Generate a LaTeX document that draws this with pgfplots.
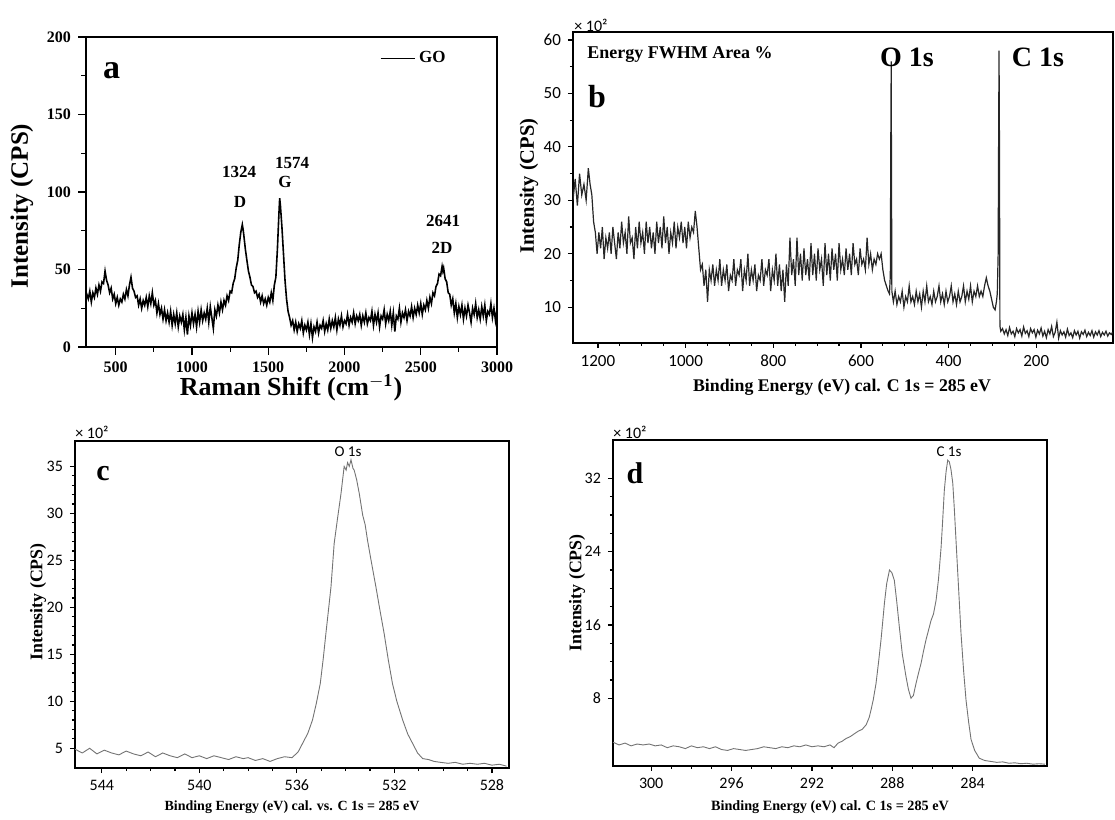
\documentclass[border=0pt]{standalone}
\usepackage{pgfplots}
\pgfplotsset{compat=1.18}
\usepackage{fontspec}
\setmainfont{Liberation Serif}
\newfontfamily\carlito{Carlito}

\pgfplotsset{
  panel/.style={scale only axis, anchor=south west,
    axis line style={line width=1.1pt},
    tick align=outside, tick pos=left,
    major tick length=2.5pt, minor tick length=1.5pt,
    every tick/.style={black, line width=0.6pt},
    /pgf/number format/assume math mode=true,
    /pgf/number format/set thousands separator={}},
}

\begin{document}
\begin{tikzpicture}
\path[use as bounding box] (0,0) rectangle (557.5pt,410pt);

% (a) Raman
\begin{axis}[panel, at={(43pt,236.5pt)}, width=205.5pt, height=155pt,
  xmin=305, xmax=3000, ymin=0, ymax=200,
  xtick={500,1000,...,3000}, ytick={0,50,...,200},
  minor x tick num=1, minor y tick num=1,
  major tick length=4pt, minor tick length=2.5pt,
  tick label style={font=\fontsize{8}{9}\selectfont\bfseries},
  legend style={draw=none, fill=none, at={(0.7,0.932)}, anchor=west,
    font=\fontsize{8.5}{9}\selectfont\bfseries},
  legend image code/.code={\draw[black,line width=0.5pt] (0cm,0cm) -- (0.6cm,0cm);}]
\addplot[black, line width=0.8pt] coordinates {
(300,28)(310,34)(320,31)(330,36)(340,29)(350,35)(360,32)(370,38)(380,34)(390,40)
(400,36)(410,42)(420,41)(430,49)(440,43)(450,40)(460,35)(470,38)(480,31)(490,34)
(500,28)(510,32)(520,27)(530,31)(540,29)(550,34)(560,31)(570,37)(580,33)(590,40)
(600,45)(610,38)(620,36)(630,32)(640,33)(650,27)(660,31)(670,25)(680,30)(690,27)
(700,32)(710,26)(720,33)(730,28)(740,35)(750,27)(760,30)(770,22)(780,28)(790,21)
(800,25)(810,18)(820,24)(830,17)(840,22)(850,16)(860,23)(870,14)(880,21)(890,15)
(900,22)(910,13)(920,20)(930,16)(940,21)(950,11)(960,19)(970,8)(980,20)(990,14)
(1000,22)(1010,15)(1020,21)(1030,13)(1040,23)(1050,16)(1060,24)(1070,17)(1080,22)(1090,18)
(1100,25)(1110,16)(1120,26)(1130,19)(1140,12)(1150,24)(1160,20)(1170,27)(1180,22)(1190,29)
(1200,24)(1210,30)(1220,27)(1230,33)(1240,30)(1250,36)(1260,35)(1270,41)(1280,44)(1290,51)
(1300,56)(1310,66)(1320,74)(1330,79)(1335,76)(1340,72)(1350,63)(1360,56)(1370,49)(1380,45)
(1390,40)(1400,39)(1410,35)(1420,36)(1430,32)(1440,34)(1450,29)(1460,33)(1470,28)(1480,31)
(1490,27)(1500,32)(1510,29)(1520,35)(1530,30)(1540,40)(1550,45)(1560,63)(1570,86)(1575,96)
(1580,91)(1590,77)(1600,60)(1610,43)(1620,31)(1630,23)(1640,19)(1650,14)(1660,17)(1670,11)
(1680,16)(1690,10)(1700,15)(1710,12)(1720,17)(1730,9)(1740,14)(1750,11)(1760,16)(1770,8)
(1780,15)(1790,6)(1800,13)(1810,10)(1820,16)(1830,9)(1840,14)(1850,12)(1860,17)(1870,10)
(1880,15)(1890,11)(1900,18)(1910,12)(1920,17)(1930,13)(1940,19)(1950,11)(1960,18)(1970,14)
(1980,20)(1990,13)(2000,17)(2010,15)(2020,21)(2030,14)(2040,19)(2050,16)(2060,22)(2070,15)
(2080,20)(2090,17)(2100,21)(2110,14)(2120,20)(2130,16)(2140,22)(2150,15)(2160,19)(2170,17)
(2180,23)(2190,14)(2200,21)(2210,16)(2220,22)(2230,13)(2240,20)(2250,18)(2260,24)(2270,15)
(2280,21)(2290,17)(2300,23)(2310,14)(2320,22)(2330,10)(2340,20)(2350,18)(2360,25)(2370,16)
(2380,22)(2390,19)(2400,24)(2410,17)(2420,23)(2430,20)(2440,26)(2450,19)(2460,25)(2470,21)
(2480,27)(2490,22)(2500,28)(2510,21)(2520,27)(2530,24)(2540,30)(2550,25)(2560,32)(2570,28)
(2580,35)(2590,33)(2600,39)(2610,41)(2620,47)(2630,46)(2640,52)(2645,49)(2650,51)(2660,44)
(2670,42)(2680,35)(2690,34)(2700,27)(2710,31)(2720,22)(2730,28)(2740,19)(2750,26)(2760,21)
(2770,27)(2780,18)(2790,25)(2800,20)(2810,27)(2820,22)(2830,16)(2840,25)(2850,21)(2860,28)
(2870,19)(2880,24)(2890,18)(2900,26)(2910,20)(2920,27)(2930,17)(2940,23)(2950,21)(2960,28)
(2970,19)(2980,25)(2990,17)(3000,24)
};
\addlegendentry{GO}
\end{axis}

% (b) XPS survey
\begin{axis}[panel, at={(286.5pt,238.5pt)}, width=270pt, height=155.5pt,
  x dir=reverse, xmin=25, xmax=1257, ymin=3.3, ymax=61.5,
  xtick={200,400,...,1200}, ytick={10,20,...,60},
  minor x tick num=3, minor y tick num=1,
  tick label style={font=\carlito\fontsize{8.5}{9}\selectfont}]
\addplot[black!85, line width=0.6pt] coordinates {
(1257,30)(1252,34)(1247,29)(1242,35)(1237,31)(1232,33)(1227,30)(1222,36)(1218,33)(1214,31)
(1210,26)(1206,24)(1202,20)(1198,24)(1194,21)(1190,25)(1186,19)(1182,23)(1178,21)(1174,24)
(1170,20)(1166,25)(1162,22)(1158,19)(1154,24)(1150,21)(1146,26)(1142,22)(1138,24)(1134,20)
(1130,27)(1126,22)(1122,23)(1118,19)(1114,25)(1110,21)(1106,26)(1102,22)(1098,24)(1094,20)
(1090,26)(1086,22)(1082,25)(1078,21)(1074,24)(1070,20)(1066,26)(1062,22)(1058,25)(1054,21)
(1050,27)(1046,22)(1042,25)(1038,20)(1034,24)(1030,22)(1026,26)(1022,21)(1018,25)(1014,23)
(1010,26)(1006,22)(1002,25)(998,21)(994,26)(990,23)(986,25)(982,24)(978,28)(974,25)
(970,21)(966,17)(962,18)(958,14)(954,17)(950,11)(946,17)(942,15)(938,18)(934,14)
(930,17)(926,15)(922,19)(918,14)(914,17)(910,15)(906,18)(902,13)(898,16)(894,15)
(890,19)(886,14)(882,17)(878,16)(874,19)(870,13)(866,17)(862,15)(858,20)(854,14)
(850,17)(846,15)(842,18)(838,13)(834,16)(830,15)(826,19)(822,14)(818,17)(814,16)
(810,19)(806,13)(802,17)(798,15)(794,20)(790,14)(786,18)(782,13)(778,17)(774,11)
(770,18)(766,14)(762,23)(758,16)(754,19)(750,14)(746,23)(742,16)(738,20)(734,15)
(730,21)(726,16)(722,19)(718,15)(714,22)(710,16)(706,20)(702,15)(698,21)(694,17)
(690,19)(686,14)(682,22)(678,16)(674,20)(670,15)(666,21)(662,17)(658,20)(654,15)
(650,22)(646,17)(642,19)(638,16)(634,21)(630,17)(626,20)(622,16)(618,22)(614,18)
(610,19)(606,16)(602,21)(598,18)(594,19)(590,17)(586,23)(582,18)(578,20)(574,17)
(570,19)(566,18)(562,20)(558,19)(554,20)(550,17)(546,15)(542,14)(538,13)(535,12.5)
(533,16)(532,40)(531,56)(530.5,40)(529.5,13)(526,11)(522,13)(518,10.5)(514,12)(510,11)
(506,13)(502,10)(498,12)(494,11)(490,14)(486,11)(482,12)(478,10.5)(474,13)(470,11)
(466,12.5)(462,10)(458,13)(454,11)(450,14)(446,11)(442,12)(438,10.5)(434,13)(430,11)
(426,12)(422,14)(418,11)(414,12.5)(410,10.5)(406,13)(402,11)(398,12)(394,14)(390,11)
(386,12.5)(382,10.5)(378,13)(374,11)(370,12)(366,14)(362,11)(358,13)(354,11.5)(350,14)
(346,11)(342,13)(338,12)(334,14)(330,12)(326,13)(322,12)(318,14)(314,15.5)(310,14)
(306,13)(302,11.5)(298,10)(294,9.5)(291,11)(289,12.5)(287,20)(286,40)(285,58)(284,40)
(283,6.5)(281,5.5)(277,6)(273,5)(269,5.8)(265,4.7)(261,6.2)(257,5)(253,5.5)(249,4.5)
(245,6)(241,5.2)(237,5.8)(233,4.6)(229,6.3)(225,5.1)(221,5.6)(217,4.5)(213,6)(209,5.2)
(205,5.8)(201,4.4)(197,5.7)(193,5)(189,6.1)(185,4.6)(181,5.5)(177,4.3)(173,5.8)(169,5)
(165,6.4)(161,4.5)(157,5.3)(153,7.2)(149,4.2)(145,5.6)(141,4.8)(137,5.4)(133,4.4)(129,5.9)
(125,4.7)(121,5.2)(117,4.3)(113,5.6)(109,4.8)(105,5.5)(101,4.2)(97,5.4)(93,4.9)(89,5.7)
(85,4.5)(81,5.3)(77,4.7)(73,5.6)(69,4.4)(65,5.4)(61,4.8)(57,5.6)(53,4.5)(49,5.3)
(45,4.8)(41,5.5)(37,4.6)(33,5.2)(29,4.9)(26,5.3)
};
\end{axis}

% (c) O 1s
\begin{axis}[panel, at={(37.5pt,26pt)}, width=217pt, height=163.5pt,
  x dir=reverse, xmin=527.3, xmax=545.1, ymin=2.9, ymax=37.7,
  xtick={528,532,...,544}, ytick={5,10,...,35},
  minor x tick num=3, minor y tick num=4,
  tick label style={font=\carlito\fontsize{8}{9}\selectfont}]
\addplot[black!55, line width=0.45pt] coordinates {
(545.1,4.9)(544.8,4.5)(544.5,5.0)(544.2,4.4)(543.9,4.8)(543.6,4.5)(543.3,4.3)(543.0,4.7)
(542.7,4.4)(542.4,4.2)(542.1,4.6)(541.8,4.1)(541.5,4.5)(541.2,4.2)(540.9,4.0)(540.6,4.4)
(540.3,4.0)(540.0,4.2)(539.7,3.9)(539.4,4.2)(539.1,4.0)(538.8,3.8)(538.5,4.1)(538.2,3.9)
(538.0,4.0)(537.7,3.7)(537.4,3.9)(537.1,3.6)(536.8,3.9)(536.5,4.1)(536.2,4.0)(535.95,4.6)
(535.77,5.5)(535.55,6.6)(535.36,8.0)(535.2,9.8)(535.04,11.9)(534.92,14.5)(534.81,17.2)
(534.7,19.8)(534.6,22.2)(534.47,26.8)(534.33,29.5)(534.19,32.1)(534.06,35.0)(533.98,34.6)
(533.92,35.4)(533.85,35.0)(533.78,35.7)(533.7,34.8)(533.65,34.6)(533.55,33.6)(533.44,32.1)
(533.3,29.8)(533.2,28.8)(533.1,27.1)(532.95,24.9)(532.76,22.2)(532.6,19.8)(532.42,17.2)
(532.25,14.4)(532.08,11.9)(531.9,10.0)(531.66,8.0)(531.45,6.5)(531.25,5.5)(531.05,4.5)
(530.84,3.9)(530.6,3.8)(530.37,3.6)(530.1,3.5)(529.8,3.4)(529.5,3.5)(529.2,3.3)(528.9,3.4)
(528.6,3.3)(528.3,3.4)(528.0,3.2)(527.7,3.3)(527.4,3.1)
};
\end{axis}

% (d) C 1s
\begin{axis}[panel, at={(306.5pt,27pt)}, width=217pt, height=163pt,
  x dir=reverse, xmin=280.3, xmax=301.9, ymin=0.6, ymax=36.2,
  xtick={284,288,...,300}, ytick={8,16,24,32},
  minor x tick num=3, minor y tick num=3,
  tick label style={font=\carlito\fontsize{8}{9}\selectfont}]
\addplot[black!55, line width=0.45pt] coordinates {
(301.9,3.2)(301.6,2.9)(301.3,3.1)(301.0,2.8)(300.7,3.0)(300.4,2.9)(300.1,3.0)(299.8,2.8)
(299.5,2.9)(299.2,2.6)(298.9,2.8)(298.6,2.7)(298.3,2.5)(298.0,2.8)(297.7,2.6)(297.4,2.7)
(297.1,2.5)(296.8,2.7)(296.5,2.4)(296.2,2.3)(295.9,2.5)(295.6,2.4)(295.3,2.3)(295.0,2.4)
(294.7,2.5)(294.4,2.7)(294.1,2.6)(293.8,2.5)(293.5,2.7)(293.2,2.6)(292.9,2.8)(292.6,2.7)
(292.3,2.9)(292.0,2.7)(291.7,2.8)(291.4,2.7)(291.1,2.9)(290.9,2.6)(290.7,3.1)(290.5,3.3)
(290.3,3.6)(290.1,3.8)(289.9,4.1)(289.7,4.4)(289.5,4.6)(289.3,5.1)(289.15,5.9)(289.06,6.7)
(288.95,7.8)(288.81,9.6)(288.68,12.0)(288.56,14.4)(288.47,16.5)(288.39,18.4)(288.28,20.5)
(288.14,22.0)(288.02,21.7)(287.90,20.9)(287.78,18.6)(287.65,15.8)(287.5,12.8)(287.32,10.4)
(287.2,9.0)(287.07,8.0)(286.95,8.3)(286.82,9.6)(286.7,10.7)(286.57,11.8)(286.45,13.1)
(286.32,14.4)(286.2,15.4)(286.07,16.5)(285.95,17.2)(285.82,18.7)(285.7,21.0)(285.57,24.5)
(285.49,27.5)(285.41,30.7)(285.32,32.8)(285.24,34.0)(285.16,33.8)(285.08,33.0)(284.99,31.5)
(284.91,28.6)(284.83,25.3)(284.7,20.0)(284.58,15.1)(284.45,11.0)(284.33,7.8)(284.2,5.4)
(284.08,3.5)(283.9,2.3)(283.67,1.45)(283.4,1.2)(283.1,1.1)(282.8,1.0)(282.5,1.05)(282.2,0.9)
(281.9,0.95)(281.6,0.85)(281.3,0.9)(281.0,0.8)(280.7,0.85)(280.4,0.8)
};
\end{axis}

% texts of (a)
\node[font=\fontsize{17}{18}\selectfont\bfseries] at (55.8pt,374.6pt) {a};
\begin{scope}[font=\fontsize{8.5}{9}\selectfont\bfseries]
\node at (119.5pt,324pt) {1324};
\node at (120pt,309pt) {D};
\node at (146pt,328.5pt) {1574};
\node at (142.5pt,319pt) {G};
\node at (221.5pt,299.5pt) {2641};
\node at (221pt,286pt) {2D};
\end{scope}
\node[rotate=90, font=\fontsize{12.5}{13}\selectfont\bfseries] at (11pt,307pt) {Intensity (CPS)};
\node[font=\fontsize{13}{14}\selectfont\bfseries] at (145.5pt,216pt) {Raman Shift (cm$^{\mathbf{-1}}$)};

% texts of (b)
\node[anchor=west, inner sep=0pt, font=\carlito\fontsize{8}{9}\selectfont] at (287pt,397.5pt) {× 10²};
\node[font=\fontsize{9}{10}\selectfont\bfseries] at (340pt,382.5pt) {Energy FWHM Area \%};
\node[font=\fontsize{14}{15}\selectfont\bfseries] at (453.5pt,381.5pt) {O 1s};
\node[font=\fontsize{14}{15}\selectfont\bfseries] at (519pt,381.5pt) {C 1s};
\node[font=\fontsize{16}{17}\selectfont\bfseries] at (298.5pt,361.5pt) {b};
\node[rotate=90, font=\fontsize{10.25}{11}\selectfont\bfseries] at (264.5pt,317pt) {Intensity (CPS)};
\node[font=\fontsize{8.9}{10}\selectfont\bfseries] at (421pt,216.5pt) {Binding Energy (eV) cal. C 1s = 285 eV};

% texts of (c)
\node[anchor=west, inner sep=0pt, font=\carlito\fontsize{8}{9}\selectfont] at (37.5pt,194pt) {× 10²};
\node[font=\fontsize{15}{16}\selectfont\bfseries] at (51.5pt,173pt) {c};
\node[font=\carlito\fontsize{7.5}{8}\selectfont] at (174pt,184pt) {O 1s};
\node[rotate=90, font=\fontsize{8.9}{10}\selectfont\bfseries] at (19pt,109pt) {Intensity (CPS)};
\node[font=\fontsize{7}{8}\selectfont\bfseries] at (146pt,6.5pt) {Binding Energy (eV) cal. vs. C 1s = 285 eV};

% texts of (d)
\node[anchor=west, inner sep=0pt, font=\carlito\fontsize{8}{9}\selectfont] at (306.5pt,194pt) {× 10²};
\node[font=\fontsize{15}{16}\selectfont\bfseries] at (317.5pt,173.5pt) {d};
\node[font=\carlito\fontsize{7.5}{8}\selectfont] at (474.5pt,184pt) {C 1s};
\node[rotate=90, font=\fontsize{8.9}{10}\selectfont\bfseries] at (288.5pt,113.5pt) {Intensity (CPS)};
\node[font=\fontsize{7.1}{8}\selectfont\bfseries] at (415pt,6.5pt) {Binding Energy (eV) cal. C 1s = 285 eV};
\end{tikzpicture}
\end{document}
